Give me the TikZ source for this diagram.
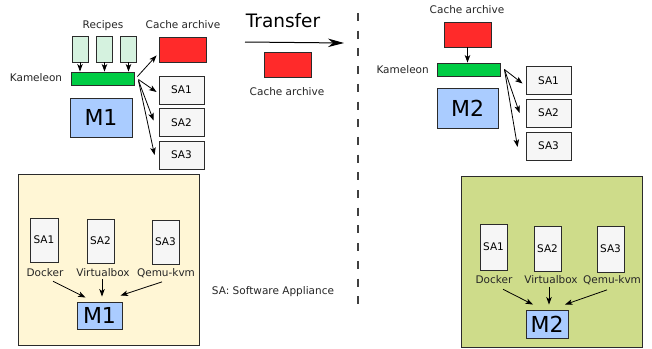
\documentclass[tikz,border=0pt]{standalone}
\usepackage{fontspec}
\setmainfont{DejaVu Sans}
\usetikzlibrary{arrows.meta}
\definecolor{recipeC}{HTML}{D5F2DF}
\definecolor{kamC}{HTML}{00CC44}
\definecolor{mC}{HTML}{AACCFF}
\definecolor{redC}{HTML}{FF2A2A}
\definecolor{saC}{HTML}{F6F6F6}
\definecolor{bgA}{HTML}{FFF6D5}
\definecolor{bgB}{HTML}{CEDC8A}
\definecolor{edgeC}{HTML}{2B2B2B}
\tikzset{
  box/.style={draw=edgeC, line width=0.9pt, inner sep=0pt, font=\fontsize{10.5}{12}\selectfont},
  lbl/.style={inner sep=0pt, font=\fontsize{10.5}{12}\selectfont, text=black!85},
  bigM/.style={font=\fontsize{22}{24}\selectfont},
  arr/.style={-{Stealth[length=7.5pt,width=5.5pt,inset=2pt]}, line width=0.8pt, black},
  bigarr/.style={-{Stealth[length=16pt,width=8.5pt,inset=5pt]}, line width=1pt, black},
}
\begin{document}
\begin{tikzpicture}[x=1pt,y=-1pt]
\useasboundingbox (0,0) rectangle (652,348);
\fill[white] (0,0) rectangle (652,348);

% ---------- left top ----------
\node[lbl] (reclbl) at (103,26) {Recipes};
\node[box, fill=recipeC, minimum width=16pt, minimum height=26pt] (r1) at (80,49) {};
\node[box, fill=recipeC, minimum width=16pt, minimum height=26pt] (r2) at (104.5,49) {};
\node[box, fill=recipeC, minimum width=16pt, minimum height=26pt] (r3) at (128.5,49) {};
\node[box, fill=kamC, minimum width=63pt, minimum height=13pt] (kam1) at (102.5,78.5) {};
\node[lbl] (kam1lbl) at (36,78) {Kameleon};
\node[box, fill=mC, minimum width=62pt, minimum height=39pt, bigM] (m1) at (101,117.5) {M1};
\node[lbl] (cache1lbl) at (183,25) {Cache archive};
\node[box, fill=redC, minimum width=47pt, minimum height=25pt] (cache1) at (182.5,49.5) {};
\node[box, fill=saC, minimum width=45pt, minimum height=28pt] (sa1a) at (181.5,90) {SA1};
\node[box, fill=saC, minimum width=45pt, minimum height=28pt] (sa2a) at (181.5,122.5) {SA2};
\node[box, fill=saC, minimum width=45pt, minimum height=28pt] (sa3a) at (181.5,155) {SA3};

\draw[arr] (r1.south) -- (r1.south |- kam1.north);
\draw[arr] (r2.south) -- (r2.south |- kam1.north);
\draw[arr] (r3.south) -- (r3.south |- kam1.north);

\draw[arr] ([xshift=3pt,yshift=2pt]kam1.east) -- ([xshift=-2pt,yshift=7pt]cache1.south west);
\draw[arr] ([xshift=4pt,yshift=-1pt]kam1.east) -- ([xshift=-2pt,yshift=-2pt]sa1a.west);
\draw[arr] ([xshift=4pt,yshift=-2pt]kam1.east) -- ([xshift=-5pt,yshift=2pt]sa2a.west);
\draw[arr] ([xshift=4pt,yshift=-2pt]kam1.east) -- ([xshift=-4pt,yshift=0pt]sa3a.west);

% ---------- transfer ----------
\node[lbl, font=\fontsize{18.5}{20}\selectfont, text=black] (trlbl) at (283,21) {Transfer};
\coordinate (trs) at (245,42);
\coordinate (tre) at (344,43);
\draw[bigarr] (trs) -- (tre);
\node[box, fill=redC, minimum width=47pt, minimum height=25pt] (cacheT) at (287.5,64.5) {};
\node[lbl] (cacheTlbl) at (287,92) {Cache archive};

\coordinate (dtop) at (358,13);
\coordinate (dbot) at (358,311);
\draw[line width=1.3pt, draw=black!75, dash pattern=on 8pt off 9.7pt] (dtop) -- (dbot);

\node[lbl] (salbl) at (273,292) {SA: Software Appliance};

% ---------- right top ----------
\node[lbl] (cache2lbl) at (467,10) {Cache archive};
\node[box, fill=redC, minimum width=47pt, minimum height=25pt] (cache2) at (467.5,34.5) {};
\node[box, fill=kamC, minimum width=63pt, minimum height=13pt] (kam2) at (468.5,69.5) {};
\node[lbl, anchor=east] (kam2lbl) at (429,70) {Kameleon};
\node[box, fill=mC, minimum width=61pt, minimum height=40pt, bigM] (m2) at (467.5,108) {M2};
\node[box, fill=saC, minimum width=45pt, minimum height=28pt] (sa1r) at (548.5,80.5) {SA1};
\node[box, fill=saC, minimum width=45pt, minimum height=28pt] (sa2r) at (548.5,113) {SA2};
\node[box, fill=saC, minimum width=45pt, minimum height=28pt] (sa3r) at (548.5,146) {SA3};

\draw[arr] (cache2.south) -- (cache2.south |- kam2.north);
\draw[arr] ([xshift=4pt,yshift=0pt]kam2.east) -- ([xshift=-3pt,yshift=-3pt]sa1r.west);
\draw[arr] ([xshift=4pt,yshift=0pt]kam2.east) -- ([xshift=-6pt,yshift=0pt]sa2r.west);
\draw[arr] ([xshift=4pt,yshift=0pt]kam2.east) -- ([xshift=-8pt,yshift=-1pt]sa3r.west);

% ---------- bottom left ----------
\node[draw=edgeC, line width=0.9pt, fill=bgA, minimum width=181pt, minimum height=171pt, inner sep=0pt] (bg1) at (108.5,259.5) {};
\node[box, fill=saC, minimum width=28pt, minimum height=44pt] (sa1b) at (44,240) {SA1};
\node[box, fill=saC, minimum width=27pt, minimum height=44pt] (sa2b) at (100.5,241) {SA2};
\node[box, fill=saC, minimum width=27pt, minimum height=44pt] (sa3b) at (165.5,242) {SA3};
\node[lbl] (dk1) at (45,273) {Docker};
\node[lbl] (vb1) at (103,273) {Virtualbox};
\node[lbl] (qk1) at (166,273) {Qemu-kvm};
\node[box, fill=mC, minimum width=45pt, minimum height=27pt, bigM] (m1b) at (99.5,315.5) {M1};
\draw[arr] ([xshift=8pt,yshift=-4pt]dk1.south) -- ([xshift=-14pt,yshift=4pt]m1b.north);
\draw[arr] ([xshift=-1pt,yshift=-2pt]vb1.south) -- ([xshift=2.5pt,yshift=5pt]m1b.north);
\draw[arr] ([xshift=-4pt,yshift=-4pt]qk1.south) -- ([xshift=21pt,yshift=6pt]m1b.north);

% ---------- bottom right ----------
\node[draw=edgeC, line width=0.9pt, fill=bgB, minimum width=181pt, minimum height=171pt, inner sep=0pt] (bg2) at (551.5,261.5) {};
\node[box, fill=saC, minimum width=27pt, minimum height=46pt] (sa1c) at (493.5,247) {SA1};
\node[box, fill=saC, minimum width=27pt, minimum height=45pt] (sa2c) at (547.5,248.5) {SA2};
\node[box, fill=saC, minimum width=27pt, minimum height=46pt] (sa3c) at (610.5,249) {SA3};
\node[lbl] (dk2) at (494,280) {Docker};
\node[lbl] (vb2) at (551,280) {Virtualbox};
\node[lbl] (qk2) at (612,280) {Qemu-kvm};
\node[box, fill=mC, minimum width=42pt, minimum height=28pt, bigM] (m2b) at (547,324) {M2};
\draw[arr] ([xshift=9pt,yshift=-5pt]dk2.south) -- ([xshift=-14pt,yshift=5pt]m2b.north);
\draw[arr] ([xshift=-2pt,yshift=-3pt]vb2.south) -- ([xshift=2pt,yshift=5pt]m2b.north);
\draw[arr] ([xshift=-5pt,yshift=-5pt]qk2.south) -- ([xshift=18pt,yshift=5pt]m2b.north);
\end{tikzpicture}
\end{document}
